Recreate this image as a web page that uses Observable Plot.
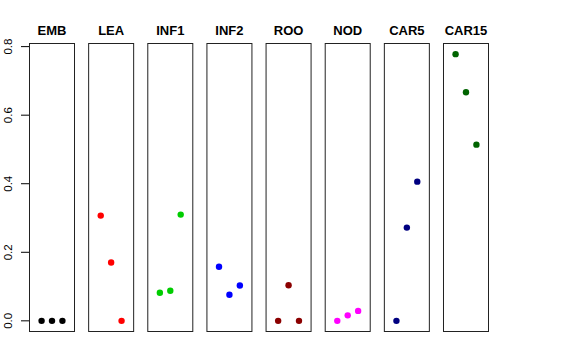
<!DOCTYPE html>
<html>
<head>
<meta charset="utf-8">
<script src="https://cdn.jsdelivr.net/npm/d3@7"></script>
<script src="https://cdn.jsdelivr.net/npm/@observablehq/plot@0.6"></script>
<style>
  html, body { margin: 0; padding: 0; background: white; }
</style>
</head>
<body>
<div id="chart"></div>
<script>
const categories = ["EMB", "LEA", "INF1", "INF2", "ROO", "NOD", "CAR5", "CAR15"];
const colors = ["#000000", "#FF0000", "#00CD00", "#0000FF", "#8B0000", "#FF00FF", "#000080", "#006400"];
const replicate = [1, 2, 3];
const EMB   = [0.000, 0.000, 0.000];
const LEA   = [0.307, 0.170, 0.000];
const INF1  = [0.082, 0.088, 0.310];
const INF2  = [0.158, 0.076, 0.103];
const ROO   = [0.000, 0.104, 0.000];
const NOD   = [0.000, 0.016, 0.029];
const CAR5  = [0.000, 0.272, 0.406];
const CAR15 = [0.778, 0.667, 0.514];
const yTicks = [0, 0.2, 0.4, 0.6, 0.8];

const series = [EMB, LEA, INF1, INF2, ROO, NOD, CAR5, CAR15];
const data = [];
categories.forEach((c, i) => {
  series[i].forEach((v, j) => data.push({cat: c, rep: replicate[j], value: v, color: colors[i]}));
});

const chart = Plot.plot({
  width: 576,
  height: 360,
  marginLeft: 29,
  marginRight: 88,
  marginTop: 43,
  marginBottom: 29,
  style: {fontFamily: "'Liberation Sans', Arial, Helvetica, sans-serif", background: "white", color: "black"},
  fx: {domain: categories, paddingInner: 0.239, paddingOuter: 0, round: false, axis: null},
  x: {domain: [-0.16, 4.16], axis: null},
  y: {domain: [-0.0311, 0.8091], axis: null},
  marks: [
    Plot.frame({stroke: "#222", strokeWidth: 1}),
    Plot.axisY({ticks: yTicks, tickSize: 8, tickFormat: () => "", stroke: "black", label: null}),
    Plot.text(yTicks, {
      y: d => d,
      fx: () => "EMB",
      text: d => d3.format(".1f")(d),
      frameAnchor: "left",
      dx: -21.5,
      rotate: -90,
      textAnchor: "middle",
      lineAnchor: "middle",
      fontSize: 11.5,
      fill: "black"
    }),
    Plot.text(categories, {
      fx: d => d,
      text: d => d,
      frameAnchor: "top",
      dy: -9,
      lineAnchor: "bottom",
      textAnchor: "middle",
      fontWeight: "bold",
      fontSize: 13,
      fill: "black"
    }),
    Plot.dot(data, {
      fx: "cat",
      x: "rep",
      y: "value",
      r: 3.2,
      fill: "color",
      stroke: "none"
    })
  ]
});
document.getElementById("chart").appendChild(chart);
</script>
</body>
</html>
